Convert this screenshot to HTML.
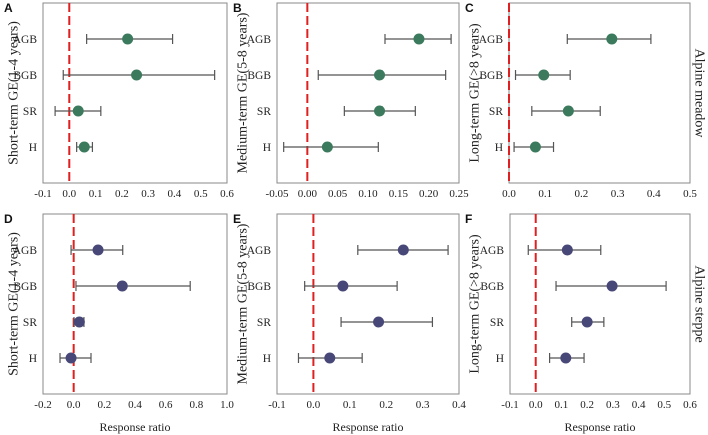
<!DOCTYPE html>
<html><head><meta charset="utf-8"><style>
html,body{margin:0;padding:0;background:#fff;}
svg{display:block;font-family:"Liberation Serif",serif;}
</style></head><body>
<svg id="chart" width="708" height="435" viewBox="0 0 708 435"></svg>
<script>
const categories = ["AGB","BGB","SR","H"];
// panel A: Short-term, Alpine meadow
const aPoint = [0.222, 0.256, 0.034, 0.057];
const aLow   = [0.066, -0.023, -0.054, 0.028];
const aHigh  = [0.393, 0.553, 0.120, 0.088];
const aTicks = ["-0.1","0.0","0.1","0.2","0.3","0.4","0.5","0.6"];
// panel B: Medium-term, Alpine meadow
const bPoint = [0.184, 0.119, 0.119, 0.033];
const bLow   = [0.128, 0.018, 0.061, -0.039];
const bHigh  = [0.237, 0.228, 0.178, 0.117];
const bTicks = ["-0.05","0.00","0.05","0.10","0.15","0.20","0.25"];
// panel C: Long-term, Alpine meadow
const cPoint = [0.284, 0.096, 0.164, 0.073];
const cLow   = [0.161, 0.018, 0.063, 0.014];
const cHigh  = [0.392, 0.169, 0.252, 0.123];
const cTicks = ["0.0","0.1","0.2","0.3","0.4","0.5"];
// panel D: Short-term, Alpine steppe
const dPoint = [0.159, 0.317, 0.037, -0.017];
const dLow   = [-0.017, 0.015, 0.002, -0.089];
const dHigh  = [0.320, 0.760, 0.067, 0.113];
const dTicks = ["-0.2","0.0","0.2","0.4","0.6","0.8","1.0"];
// panel E: Medium-term, Alpine steppe
const ePoint = [0.247, 0.081, 0.179, 0.045];
const eLow   = [0.122, -0.024, 0.076, -0.041];
const eHigh  = [0.370, 0.230, 0.327, 0.134];
const eTicks = ["-0.1","0.0","0.1","0.2","0.3","0.4"];
// panel F: Long-term, Alpine steppe
const fPoint = [0.123, 0.297, 0.200, 0.117];
const fLow   = [-0.029, 0.079, 0.140, 0.054];
const fHigh  = [0.253, 0.507, 0.265, 0.188];
const fTicks = ["-0.1","0.0","0.1","0.2","0.3","0.4","0.5","0.6"];

const NS="http://www.w3.org/2000/svg";
const svg=document.getElementById('chart');
function mk(tag,attrs,parent,text){const e=document.createElementNS(NS,tag);for(const k in attrs)e.setAttribute(k,attrs[k]);if(text!==undefined)e.textContent=text;(parent||svg).appendChild(e);return e;}

const GREEN="#3b7a5c", PURPLE="#484878";
const panels=[
 {id:"a",letter:"A",x0:43,x1:227,y0:3,y1:183,pt:aPoint,lo:aLow,hi:aHigh,ticks:aTicks,title:"Short-term GE(1-4 years)",tx:14,col:GREEN},
 {id:"b",letter:"B",x0:277,x1:459,y0:3,y1:183,pt:bPoint,lo:bLow,hi:bHigh,ticks:bTicks,title:"Medium-term GE(5-8 years)",tx:243,col:GREEN},
 {id:"c",letter:"C",x0:509,x1:690,y0:3,y1:183,pt:cPoint,lo:cLow,hi:cHigh,ticks:cTicks,title:"Long-term GE(>8 years)",tx:475,col:GREEN,side:"Alpine meadow"},
 {id:"d",letter:"D",x0:43,x1:227,y0:214,y1:394,pt:dPoint,lo:dLow,hi:dHigh,ticks:dTicks,title:"Short-term GE(1-4 years)",tx:14,col:PURPLE,xlabel:true},
 {id:"e",letter:"E",x0:277,x1:459,y0:214,y1:394,pt:ePoint,lo:eLow,hi:eHigh,ticks:eTicks,title:"Medium-term GE(5-8 years)",tx:243,col:PURPLE,xlabel:true},
 {id:"f",letter:"F",x0:510,x1:690,y0:214,y1:394,pt:fPoint,lo:fLow,hi:fHigh,ticks:fTicks,title:"Long-term GE(>8 years)",tx:475,col:PURPLE,xlabel:true,side:"Alpine steppe"}
];

panels.forEach(p=>{
 const g=mk('g',{});
 
 
 const dmin=parseFloat(p.ticks[0]), dmax=parseFloat(p.ticks[p.ticks.length-1]);
 const xs=v=>p.x0+(v-dmin)/(dmax-dmin)*(p.x1-p.x0);
 const band=(p.y1-p.y0)/5;
 const ys=i=>p.y0+band*(i+1);
 const box=mk('rect',{x:p.x0,y:p.y0,width:p.x1-p.x0,height:p.y1-p.y0,fill:"none",stroke:"#888","stroke-width":1},g);
 
 
 // x ticks
 p.ticks.forEach((t,i)=>{
  const x=xs(parseFloat(t));
  const tl=mk('text',{x:x,y:p.y1+14,"text-anchor":"middle","font-size":"11",fill:"#222"},g,t);
  
  
 });
 // zero line
 const zl=mk('line',{x1:xs(0),x2:xs(0),y1:p.y0,y2:p.y1,stroke:"#e02020","stroke-width":2,"stroke-dasharray":"9,4"},g);
 
 
 categories.forEach((c,i)=>{
  const y=ys(i);
  const cl=mk('text',{x:p.x0-6,y:y+4,"text-anchor":"end","font-size":"11.5",fill:"#222"},g,c);
  
  
  const eg=mk('g',{stroke:"#555","stroke-width":1.2},g);
  
  
  mk('line',{x1:xs(p.lo[i]),x2:xs(p.hi[i]),y1:y,y2:y},eg);
  mk('line',{x1:xs(p.lo[i]),x2:xs(p.lo[i]),y1:y-5,y2:y+5},eg);
  mk('line',{x1:xs(p.hi[i]),x2:xs(p.hi[i]),y1:y-5,y2:y+5},eg);
  const pt=mk('circle',{cx:xs(p.pt[i]),cy:y,r:5.5,fill:p.col},g);
  
  
 });
 const cy=(p.y0+p.y1)/2;
 const yt=mk('text',{x:p.tx,y:cy,"text-anchor":"middle","font-size":"14",fill:"#222",transform:`rotate(-90 ${p.tx} ${cy})`,"dominant-baseline":"central"},g,p.title);
 
 
 const lt=mk('text',{x:p.tx-10,y:p.y0+9,"font-size":"12","font-weight":"bold","font-family":"Liberation Sans, sans-serif",fill:"#111"},g,p.letter);
 
 
 if(p.xlabel){
  const xl=mk('text',{x:(p.x0+p.x1)/2,y:p.y1+37,"text-anchor":"middle","font-size":"12",fill:"#222"},g,"Response ratio");
  
  
 }
 if(p.side){
  const sx=699;
  const st=mk('text',{x:sx,y:cy,"text-anchor":"middle","font-size":"14",fill:"#222",transform:`rotate(90 ${sx} ${cy})`,"dominant-baseline":"central"},g,p.side);
  
  
 }
});
</script>
</body></html>
